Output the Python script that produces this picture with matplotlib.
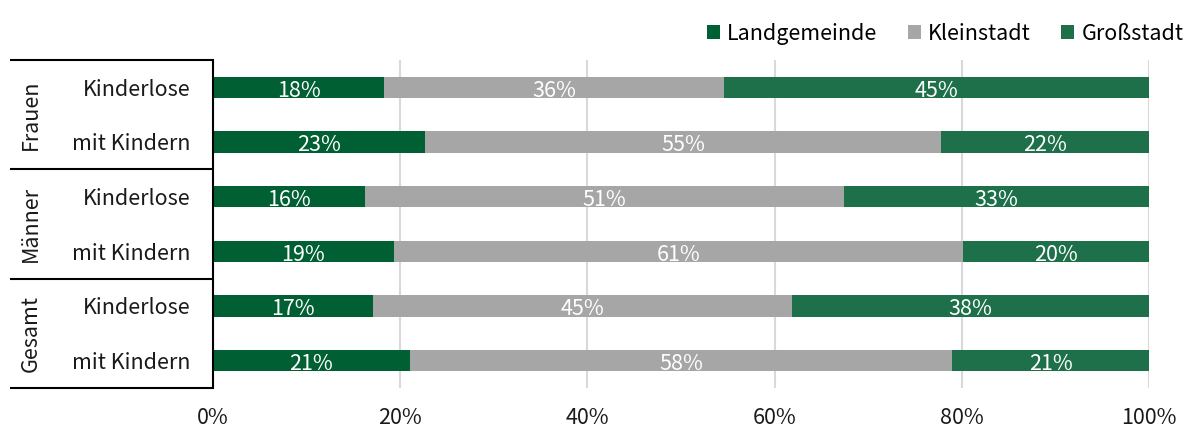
import matplotlib
matplotlib.use("Agg")
import matplotlib.pyplot as plt
import numpy as np

plt.rcParams['font.family'] = ['Noto Sans CJK SC', 'DejaVu Sans']

groups = ["Frauen", "Männer", "Gesamt"]
rows = ["Kinderlose", "mit Kindern", "Kinderlose", "mit Kindern", "Kinderlose", "mit Kindern"]
series = ["Landgemeinde", "Kleinstadt", "Großstadt"]
landgemeinde = [18.3, 22.6, 16.2, 19.3, 17.1, 21.0]
kleinstadt = [36.3, 55.2, 51.2, 60.8, 44.8, 58.0]
grossstadt = [45.4, 22.2, 32.6, 19.9, 38.1, 21.0]
colors = ["#005f33", "#a6a6a6", "#1d704a"]
xticks = [0, 20, 40, 60, 80, 100]

FS = 15.5
W, H = 1188, 430
fig = plt.figure(figsize=(W / 100, H / 100), dpi=100)
ax = fig.add_axes([213 / W, 1 - 388 / H, 936 / W, 328 / H])

y = np.arange(len(rows))
left = np.zeros(len(rows))
for name, vals, col in zip(series, [landgemeinde, kleinstadt, grossstadt], colors):
    vals = np.array(vals)
    ax.barh(y, vals, left=left, height=0.39, color=col, label=name, zorder=3)
    for yi, l, v in zip(y, left, vals):
        ax.text(l + v / 2, yi + 0.06, f"{v:.0f}%", color="white", ha="center",
                va="center", fontsize=FS, zorder=4)
    left += vals

ax.set_ylim(5.5, -0.5)
ax.set_xlim(0, 100)
ax.set_xticks(xticks)
ax.set_xticklabels([f"{t}%" for t in xticks], fontsize=FS, color="#1a1a1a")
ax.set_yticks(y)
ax.set_yticklabels(rows, fontsize=FS, color="#1a1a1a")
ax.tick_params(axis="y", length=0, pad=16)
ax.tick_params(axis="x", length=0, pad=14)
ax.grid(axis="x", color="#d9d9d9", linewidth=1.5, zorder=0)
for s in ["top", "right", "bottom"]:
    ax.spines[s].set_visible(False)
ax.spines["left"].set_color("black")
ax.spines["left"].set_linewidth(1.5)
ax.spines["left"].set_zorder(5)

# category table on the left
tr = ax.get_yaxis_transform()
x_left = (10 - 213) / 936
for yb in [-0.5, 1.5, 3.5, 5.5]:
    ax.plot([x_left, 0], [yb, yb], color="black", linewidth=1.5,
            transform=tr, clip_on=False, solid_capstyle="butt")
for i, g in enumerate(groups):
    ax.text((31 - 213) / 936, 2 * i + 0.5, g, rotation=90, ha="center", va="center",
            fontsize=FS, color="#1a1a1a", transform=tr)

leg = ax.legend(loc="lower right", bbox_to_anchor=(1.046, 1.02), ncol=3, frameon=False,
                fontsize=FS, handlelength=0.6, handleheight=0.6, handletextpad=0.35,
                columnspacing=1.4, borderaxespad=0)

fig.savefig("out.png", dpi=100)
